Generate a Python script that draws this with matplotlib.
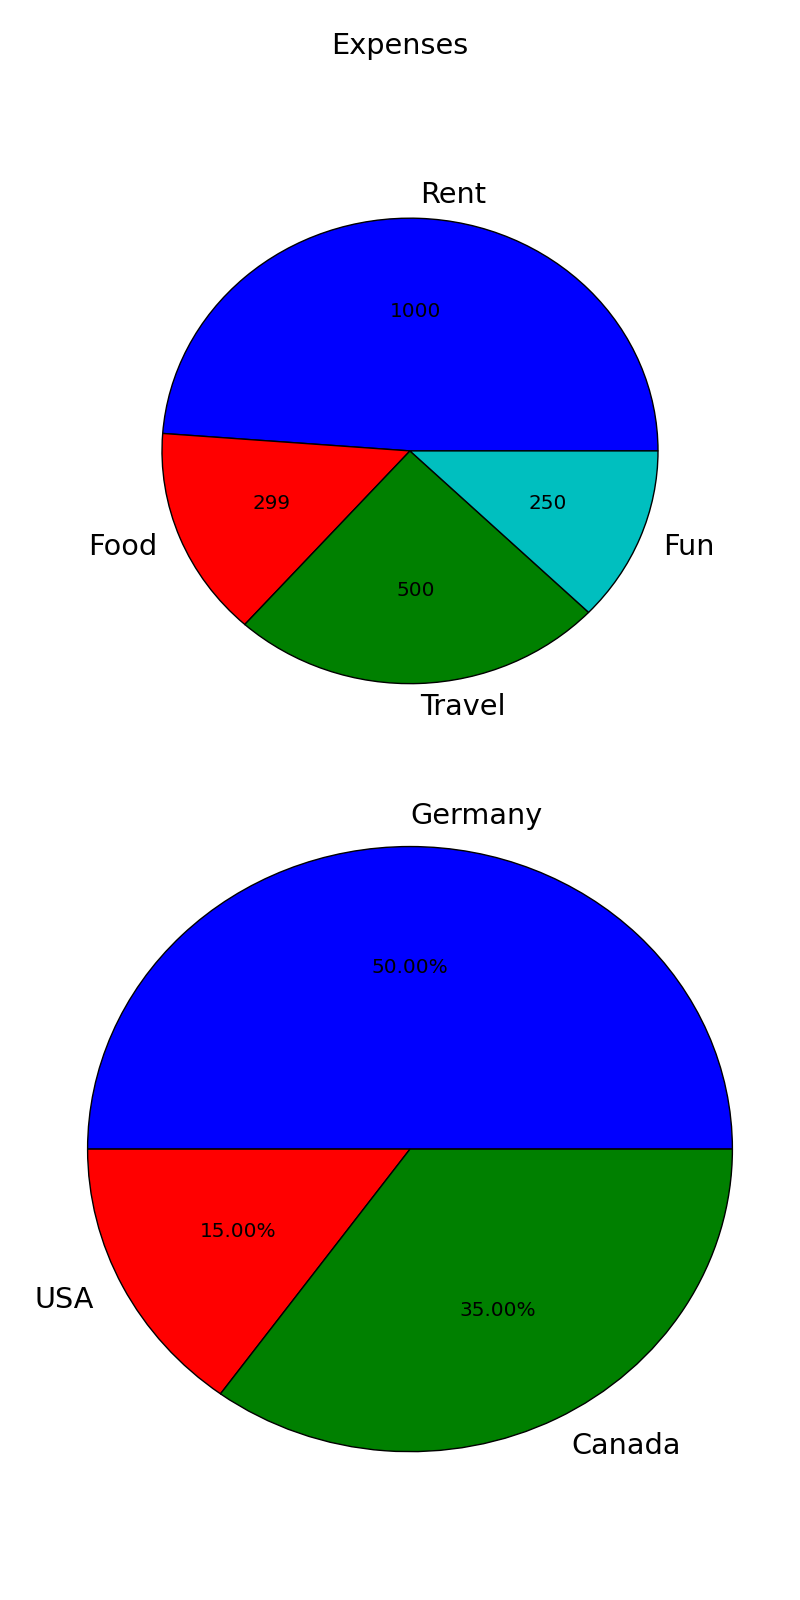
import matplotlib
matplotlib.use("Agg")
import matplotlib.pyplot as plt

plt.style.use("classic")

expense_labels = ["Rent", "Food", "Travel", "Fun"]
expense_values = [1000, 299, 500, 250]
expense_colors = ["b", "r", "g", "c"]

country_labels = ["Germany", "USA", "Canada"]
country_values = [50, 15, 35]
country_colors = ["b", "r", "g"]

total = sum(expense_values)

fig, (ax1, ax2) = plt.subplots(2, 1, figsize=(8, 16), dpi=100)
fig.patch.set_facecolor("white")
fig.suptitle("Expenses", fontsize=20.7)

_, lbl1, auto1 = ax1.pie(expense_values, labels=expense_labels, colors=expense_colors,
                         autopct=lambda p: "{:.0f}".format(p * total / 100))
_, lbl2, auto2 = ax2.pie(country_values, labels=country_labels, colors=country_colors,
                         autopct="%.2f%%", radius=1.3)

for t in list(lbl1) + list(lbl2):
    t.set_fontsize(20.7)
for t in list(auto1) + list(auto2):
    t.set_fontsize(14.4)
lbl2[0].set_horizontalalignment("left")

for ax in (ax1, ax2):
    ax.set_aspect("auto")

fig.savefig("out.png", dpi=100, facecolor="white")
